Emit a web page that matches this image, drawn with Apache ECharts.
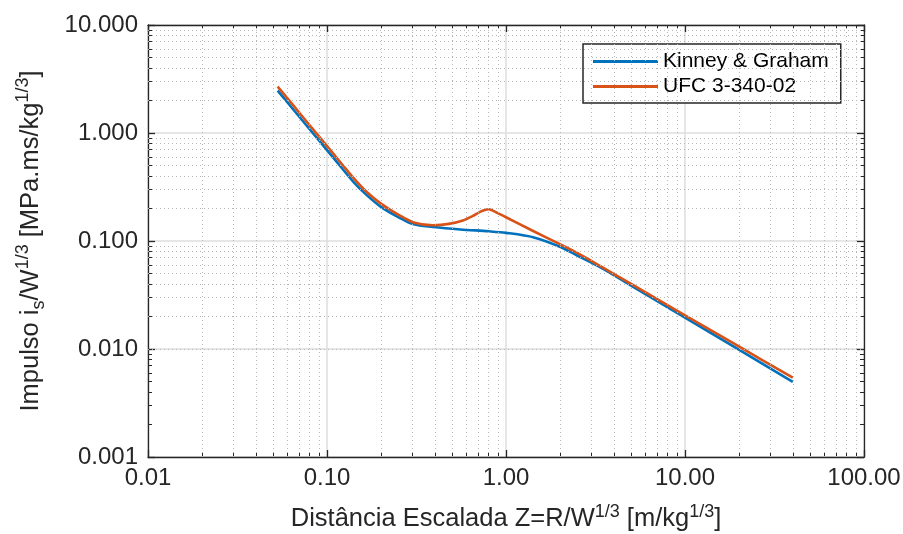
<!DOCTYPE html>
<html><head><meta charset="utf-8">
<script src="https://cdn.jsdelivr.net/npm/echarts@6/dist/echarts.min.js"></script>
<style>html,body{margin:0;padding:0;background:#fff}#c{width:903px;height:534px}</style>
</head><body><div id="c"></div>
<script>
// Scaled distance Z [m/kg^1/3] and impulse values
const kinneyZ = [0.053, 0.065, 0.08, 0.1, 0.12, 0.14, 0.165, 0.2, 0.25, 0.305, 0.39, 0.556, 0.8, 1.0, 1.43, 2.0, 2.5, 3.37, 5, 10, 20, 40];
const kinneyI = [2.47, 1.642, 1.084, 0.694, 0.482, 0.355, 0.270, 0.207, 0.1665, 0.1426, 0.135, 0.128, 0.123, 0.119, 0.108, 0.0886, 0.0734, 0.057, 0.0387, 0.0195, 0.00986, 0.00497];
const ufcZ = [0.053, 0.065, 0.08, 0.1, 0.12, 0.14, 0.165, 0.2, 0.25, 0.305, 0.39, 0.48, 0.58, 0.65, 0.72, 0.76, 0.8, 0.84, 0.9, 1.0, 1.4, 2.0, 2.5, 3.37, 5, 10, 20, 40];
const ufcI = [2.69, 1.79, 1.18, 0.756, 0.525, 0.386, 0.289, 0.222, 0.1755, 0.1486, 0.140, 0.144, 0.156, 0.170, 0.187, 0.194, 0.197, 0.192, 0.181, 0.166, 0.125, 0.0935, 0.0775, 0.0585, 0.0400, 0.0205, 0.01055, 0.00542];
const seriesNames = ['Kinney & Graham', 'UFC 3-340-02'];
const xTickLabels = ['0.01', '0.10', '1.00', '10.00', '100.00'];
const yTickLabels = ['0.001', '0.010', '0.100', '1.000', '10.000'];

const xMin = 0.01, xMax = 100, yMin = 0.001, yMax = 10;
// minor grid positions (2..9 within each decade)
const xMinor = [], yMinor = [];
for (let d = 0.01; d < 99; d *= 10) for (let m = 2; m <= 9; m++) xMinor.push(+(d * m).toPrecision(3));
for (let d = 0.001; d < 9.9; d *= 10) for (let m = 2; m <= 9; m++) yMinor.push(+(d * m).toPrecision(3));

const FONT = "'Liberation Sans', Arial, Helvetica, sans-serif";
const TXT = '#262626';
const zip = (a, b) => a.map((v, i) => [v, b[i]]);
const fmtX = v => { const i = [0.01, 0.1, 1, 10, 100].findIndex(t => Math.abs(Math.log10(t) - Math.log10(v)) < 1e-6); return i >= 0 ? xTickLabels[i] : ''; };
const fmtY = v => { const i = [0.001, 0.01, 0.1, 1, 10].findIndex(t => Math.abs(Math.log10(t) - Math.log10(v)) < 1e-6); return i >= 0 ? yTickLabels[i] : ''; };

const baseAxis = {
  type: 'log', logBase: 10,
  axisLine: { show: true, onZero: false, lineStyle: { color: TXT, width: 1.3 } },
  axisTick: { show: true, inside: true, length: 7, lineStyle: { color: TXT, width: 1.3 } },
  minorTick: { show: true, splitNumber: 9, length: 4, lineStyle: { color: TXT, width: 1 } },
  splitLine: { show: false },
  minorSplitLine: { show: false }
};

const chart = echarts.init(document.getElementById('c'), null, { renderer: 'canvas' });
chart.setOption({
  animation: false,
  backgroundColor: '#fff',
  grid: { left: 148, right: 39, top: 25, bottom: 77, containLabel: false, outerBoundsMode: 'none' },
  xAxis: [
    Object.assign({}, baseAxis, {
      min: xMin, max: xMax, position: 'bottom',
      axisLabel: { formatter: fmtX, color: TXT, fontFamily: FONT, fontSize: 24, margin: 9 },
      splitLine: { show: true, lineStyle: { color: '#dedede', width: 1.5 } },
      name: 'Distância Escalada Z=R/W{sup|1/3} [m/kg{sup|1/3}]',
      nameLocation: 'middle', nameGap: 46,
      nameTextStyle: { color: TXT, fontFamily: FONT, fontSize: 25.5, lineHeight: 32,
        rich: { sup: { fontSize: 18, verticalAlign: 'top', fontFamily: FONT, color: TXT, lineHeight: 32 } } }
    }),
    Object.assign({}, baseAxis, { min: xMin, max: xMax, position: 'top', axisLabel: { show: false } })
  ],
  yAxis: [
    Object.assign({}, baseAxis, {
      min: yMin, max: yMax, position: 'left',
      axisLabel: { formatter: fmtY, color: TXT, fontFamily: FONT, fontSize: 24, margin: 10 },
      splitLine: { show: true, lineStyle: { color: '#dedede', width: 1.5 } },
      name: 'Impulso i{sub|s}/W{sup|1/3} [MPa.ms/kg{sup|1/3}]',
      nameLocation: 'middle', nameGap: 100, nameRotate: 90,
      nameTextStyle: { color: TXT, fontFamily: FONT, fontSize: 25.5, lineHeight: 34,
        rich: {
          sup: { fontSize: 18, verticalAlign: 'top', fontFamily: FONT, color: TXT, lineHeight: 34 },
          sub: { fontSize: 18, verticalAlign: 'bottom', fontFamily: FONT, color: TXT, lineHeight: 34 }
        } }
    }),
    Object.assign({}, baseAxis, { min: yMin, max: yMax, position: 'right', axisLabel: { show: false } })
  ],
  legend: {
    data: seriesNames, orient: 'vertical', left: 583, top: 44,
    padding: [7, 12, 6, 10], itemWidth: 65, itemHeight: 3, itemGap: 4, icon: 'rect',
    borderColor: TXT, borderWidth: 1.5, backgroundColor: '#fff', borderRadius: 0,
    textStyle: { color: '#000', fontFamily: FONT, fontSize: 21, lineHeight: 21 }
  },
  series: [
    {
      name: 'minor-grid', type: 'line', data: [], silent: true, z: 0,
      markLine: {
        silent: true, symbol: 'none', label: { show: false }, animation: false,
        lineStyle: { type: [1, 3], color: '#b8b8b8', width: 1 },
        emphasis: { disabled: true },
        data: xMinor.map(v => ({ xAxis: v })).concat(yMinor.map(v => ({ yAxis: v })))
      }
    },
    {
      name: seriesNames[0], type: 'line', data: zip(kinneyZ, kinneyI), smooth: 0.3,
      symbol: 'none', lineStyle: { color: '#0072BD', width: 2.6 }, itemStyle: { color: '#0072BD' }, z: 3
    },
    {
      name: seriesNames[1], type: 'line', data: zip(ufcZ, ufcI), smooth: 0.3,
      symbol: 'none', lineStyle: { color: '#D95319', width: 2.6 }, itemStyle: { color: '#D95319' }, z: 4
    }
  ]
});
</script></body></html>
